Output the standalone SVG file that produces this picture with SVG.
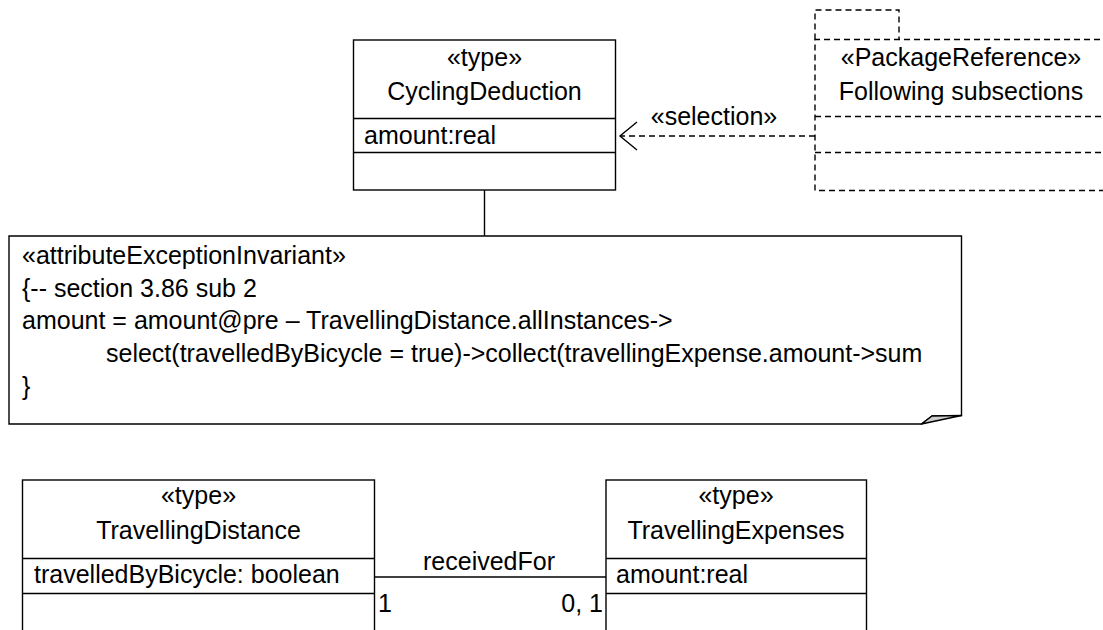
<svg xmlns="http://www.w3.org/2000/svg" width="1103" height="630" viewBox="0 0 1103 630">
  <style>
    text { font-family: "Liberation Sans", Arial, Helvetica, sans-serif; font-size: 25px; fill: #000; }
    .c { text-anchor: middle; }
    .e { text-anchor: end; }
    .box { fill: #fff; stroke: #000; stroke-width: 1.4; }
    .ln { fill: none; stroke: #000; stroke-width: 1.4; }
    .dash { fill: none; stroke: #000; stroke-width: 1.4; stroke-dasharray: 6 4; }
  </style>
  <defs>
    <marker id="openArrow" viewBox="-20 -16 22 32" refX="0" refY="0" markerWidth="22" markerHeight="32" markerUnits="userSpaceOnUse" orient="auto">
      <path d="M-17,-14 L0,0 L-17,14" fill="none" stroke="#000" stroke-width="1.4"/>
    </marker>
  </defs>
  <rect width="1103" height="630" fill="#fff"/>

  <!-- connectors -->
  <g id="connectors">
    <line class="ln" x1="484.5" y1="190" x2="484.5" y2="236"/>
    <line class="dash" x1="815" y1="136" x2="620" y2="136" marker-end="url(#openArrow)"/>
    <text class="c" x="714" y="125">«selection»</text>
    <line class="ln" x1="374.5" y1="577" x2="606" y2="577"/>
    <text class="c" x="489" y="570">receivedFor</text>
    <text x="378" y="612">1</text>
    <text class="e" x="603" y="612">0, 1</text>
  </g>

  <!-- CyclingDeduction class -->
  <g id="cyclingDeduction">
    <rect class="box" x="353.5" y="40" width="262" height="150"/>
    <line class="ln" x1="353.5" y1="118.5" x2="615.5" y2="118.5"/>
    <line class="ln" x1="353.5" y1="152.5" x2="615.5" y2="152.5"/>
    <text class="c" x="484.5" y="66">«type»</text>
    <text class="c" x="484.5" y="100">CyclingDeduction</text>
    <text x="364" y="144">amount:real</text>
  </g>

  <!-- package reference -->
  <g id="packageReference">
    <path class="dash" d="M815,39.5 L815,10 L899,10 L899,39.5"/>
    <path class="dash" d="M1110,39.5 L815,39.5 L815,190.5 L1110,190.5"/>
    <line class="dash" x1="815" y1="116.5" x2="1110" y2="116.5"/>
    <line class="dash" x1="815" y1="152.5" x2="1110" y2="152.5"/>
    <text class="c" x="961" y="66">«PackageReference»</text>
    <text class="c" x="961" y="100">Following subsections</text>
  </g>

  <!-- constraint note -->
  <g id="invariantNote">
    <path class="box" d="M9,236 L961.5,236 L961.5,415.5 L932,416 L921.5,424 L9,424 Z"/>
    <path d="M921.5,424 L932,416 L961.5,415.5 Z" fill="#ccc" stroke="#000" stroke-width="1.4" stroke-linejoin="round"/>
    <text x="22" y="264">«attributeExceptionInvariant»</text>
    <text x="22" y="297">{-- section 3.86 sub 2</text>
    <text x="22" y="329">amount = amount@pre – TravellingDistance.allInstances-&gt;</text>
    <text x="106" y="362">select(travelledByBicycle = true)-&gt;collect(travellingExpense.amount-&gt;sum</text>
    <text x="22" y="395">}</text>
  </g>

  <!-- TravellingDistance class -->
  <g id="travellingDistance">
    <rect class="box" x="22.5" y="480" width="352" height="160"/>
    <line class="ln" x1="22.5" y1="558.5" x2="374.5" y2="558.5"/>
    <line class="ln" x1="22.5" y1="593.5" x2="374.5" y2="593.5"/>
    <text class="c" x="198.5" y="504">«type»</text>
    <text class="c" x="198.5" y="539">TravellingDistance</text>
    <text x="34" y="583">travelledByBicycle: boolean</text>
  </g>

  <!-- TravellingExpenses class -->
  <g id="travellingExpenses">
    <rect class="box" x="606" y="480" width="260.5" height="160"/>
    <line class="ln" x1="606" y1="558.5" x2="866.5" y2="558.5"/>
    <line class="ln" x1="606" y1="593.5" x2="866.5" y2="593.5"/>
    <text class="c" x="736" y="504">«type»</text>
    <text class="c" x="736" y="539">TravellingExpenses</text>
    <text x="616" y="583">amount:real</text>
  </g>
</svg>
